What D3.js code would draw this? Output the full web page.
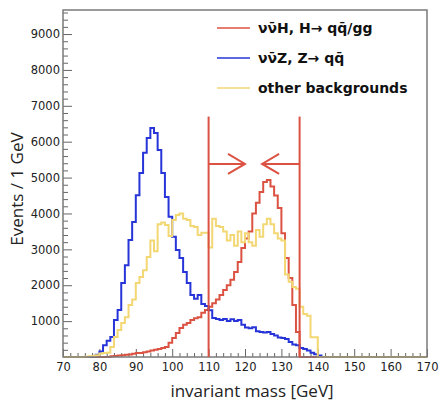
<!DOCTYPE html>
<html>
<head>
<meta charset="utf-8">
<script src="https://cdn.jsdelivr.net/npm/d3@7/dist/d3.min.js"></script>
<style>
  body { margin: 0; background: #fff; }
</style>
</head>
<body>
<div class="wrapper-chart"></div>
<script>
// histogram bins: 1 GeV wide, starting at 70 GeV
const binStart = 70;
const binWidth = 1;

// vvH, H -> qq/gg  (bins 70..169)
const higgsCounts = [
  0, 0, 0, 0, 0, 0, 0, 0, 0, 0,
  0, 0, 0, 20, 30, 40, 50, 60, 70, 90,
  110, 110, 130, 150, 180, 200, 220, 250, 280, 400,
  530, 670, 810, 900, 950, 1030, 1080, 1110, 1230, 1310,
  1400, 1500, 1600, 1730, 1870, 2000, 2150, 2370, 2650, 3040,
  3300, 3500, 4000, 4300, 4600, 4880, 4930, 4750, 4500, 4150,
  3450, 2760, 2200, 1450, 700, 0, 0, 0, 0, 0,
  0, 0, 0, 0, 0, 0, 0, 0, 0, 0,
  0, 0, 0, 0, 0, 0, 0, 0, 0, 0,
  0, 0, 0, 0, 0, 0, 0, 0, 0, 0
];

// vvZ, Z -> qq
const zCounts = [
  0, 0, 0, 0, 0, 0, 0, 0, 20, 60,
  150, 330, 450, 560, 1030, 1310, 2060, 2560, 3260, 3760,
  4510, 5130, 5690, 6100, 6380, 6240, 5770, 5130, 4460, 3910,
  3350, 2980, 2760, 2370, 2060, 1730, 1620, 1730, 1480, 1420,
  1300, 1090, 1060, 1030, 1060, 1000, 1050, 1000, 1030, 900,
  820, 800, 830, 720, 700, 680, 700, 640, 600, 540,
  530, 500, 420, 350, 330, 250, 220, 180, 120, 80,
  40, 0, 0, 0, 0, 0, 0, 0, 0, 0,
  0, 0, 0, 0, 0, 0, 0, 0, 0, 0,
  0, 0, 0, 0, 0, 0, 0, 0, 0, 0
];

// other backgrounds
const otherCounts = [
  0, 0, 0, 0, 0, 0, 10, 20, 30, 50,
  100, 110, 120, 280, 560, 750, 950, 1110, 1450, 1600,
  2060, 2230, 2420, 2790, 3250, 2950, 3700, 3750, 3680, 3370,
  3820, 3960, 4000, 3850, 3820, 3650, 3620, 3400, 3460, 3460,
  3050, 3850, 3650, 3620, 3500, 3250, 3400, 3100, 3500, 3200,
  3450, 3200, 3100, 3540, 3350, 3700, 3850, 3700, 3450, 3300,
  3250, 2300, 2100, 1950, 1900, 1400, 1200, 1150, 550, 550,
  0, 0, 0, 0, 0, 0, 0, 0, 0, 0,
  0, 0, 0, 0, 0, 0, 0, 0, 0, 0,
  0, 0, 0, 0, 0, 0, 0, 0, 0, 0
];

const seriesNames = ["ν\u03BD\u0304H, H\u2192 q\u0071\u0304/gg", "ν\u03BD\u0304Z, Z\u2192 q\u0071\u0304", "other backgrounds"];
const seriesColors = ["#dc5242", "#2634d8", "#f2d773"];

// mass window cut and arrows
const cutValues = [110, 135];
const cutTop = 6700;
const arrowLevel = 5380;
const arrowTips = [120, 124.7];

const xTicks = [70, 80, 90, 100, 110, 120, 130, 140, 150, 160, 170];
const yTicks = [1000, 2000, 3000, 4000, 5000, 6000, 7000, 8000, 9000];
const xDomain = [70, 170];
const yDomain = [0, 9670];

const width = 439, height = 402;
const margin = {top: 10, right: 12, bottom: 45, left: 63};

const svg = d3.select(".wrapper-chart")
              .append("svg")
              .attr("width", width)
              .attr("height", height)
              .attr("viewBox", [0, 0, width, height]);

const x = d3.scaleLinear().domain(xDomain).range([margin.left, width - margin.right]);
const y = d3.scaleLinear().domain(yDomain).range([height - margin.bottom, margin.top]);

// minor ticks first
const xMinor = d3.range(xDomain[0], xDomain[1] + 0.001, 2).filter(v => xTicks.indexOf(v) < 0);
const yMinor = d3.range(200, yDomain[1], 200).filter(v => yTicks.indexOf(v) < 0);

const tickFont = "'DejaVu Sans', sans-serif";

svg.append("g")
   .attr("transform", "translate(0," + y(0) + ")")
   .call(d3.axisBottom(x).tickValues(xMinor).tickSizeInner(-4).tickSizeOuter(0).tickFormat(""))
   .call(g => g.select(".domain").remove())
   .call(g => g.selectAll("line").attr("stroke", "#666"));

svg.append("g")
   .attr("transform", "translate(" + x(xDomain[0]) + ",0)")
   .call(d3.axisLeft(y).tickValues(yMinor).tickSizeInner(-5).tickSizeOuter(0).tickFormat(""))
   .call(g => g.select(".domain").remove())
   .call(g => g.selectAll("line").attr("stroke", "#666"));

const xAxis = svg.append("g")
   .attr("transform", "translate(0," + y(0) + ")")
   .call(d3.axisBottom(x).tickValues(xTicks).tickSizeInner(-8).tickSizeOuter(0).tickPadding(6).tickFormat(d3.format("d")))
   .call(g => g.select(".domain").remove());
xAxis.selectAll("line").attr("stroke", "#666");
xAxis.selectAll("text")
     .attr("font-family", tickFont)
     .attr("font-size", 11.5)
     .attr("fill", "#222");

const yAxis = svg.append("g")
   .attr("transform", "translate(" + x(xDomain[0]) + ",0)")
   .call(d3.axisLeft(y).tickValues(yTicks).tickSizeInner(-9).tickSizeOuter(0).tickPadding(3).tickFormat(d3.format("d")))
   .call(g => g.select(".domain").remove());
yAxis.selectAll("line").attr("stroke", "#666");
yAxis.selectAll("text")
     .attr("font-family", tickFont)
     .attr("font-size", 11.5)
     .attr("fill", "#222");

// histograms
const stepLine = d3.line()
                   .x(d => x(d[0]))
                   .y(d => y(d[1]))
                   .curve(d3.curveStepAfter);

const toPoints = counts => {
  const pts = counts.map((c, i) => [binStart + i * binWidth, c]);
  pts.push([binStart + counts.length * binWidth, counts[counts.length - 1]]);
  return pts;
};

const allCounts = [higgsCounts, zCounts, otherCounts];
allCounts.forEach((counts, i) => {
  svg.append("path")
     .attr("d", stepLine(toPoints(counts)))
     .attr("fill", "none")
     .attr("stroke", seriesColors[i])
     .attr("stroke-width", 2)
     .attr("stroke-linejoin", "miter");
});

// frame
svg.append("rect")
   .attr("x", x(xDomain[0]))
   .attr("y", y(yDomain[1]))
   .attr("width", x(xDomain[1]) - x(xDomain[0]))
   .attr("height", y(yDomain[0]) - y(yDomain[1]))
   .attr("fill", "none")
   .attr("stroke", "#7a7a7a")
   .attr("stroke-width", 1.5);

// cut lines + arrows
const cutColor = "#dc5242";
cutValues.forEach((c, i) => {
  svg.append("line")
     .attr("x1", x(c)).attr("x2", x(c))
     .attr("y1", y(cutTop)).attr("y2", y(0))
     .attr("stroke", cutColor)
     .attr("stroke-width", 2);
  const tip = arrowTips[i];
  const dir = tip > c ? 1 : -1;
  svg.append("line")
     .attr("x1", x(c)).attr("x2", x(tip))
     .attr("y1", y(arrowLevel)).attr("y2", y(arrowLevel))
     .attr("stroke", cutColor)
     .attr("stroke-width", 2);
  svg.append("path")
     .attr("d", `M${x(tip) - dir * 17},${y(arrowLevel) - 10}L${x(tip)},${y(arrowLevel)}L${x(tip) - dir * 17},${y(arrowLevel) + 10}`)
     .attr("fill", "none")
     .attr("stroke", cutColor)
     .attr("stroke-width", 2);
});

// legend
const legend = svg.append("g").attr("transform", "translate(217,28)");
seriesNames.forEach((name, i) => {
  const row = legend.append("g").attr("transform", "translate(0," + i * 30 + ")");
  row.append("line")
     .attr("x1", 0).attr("x2", 33)
     .attr("y1", 0).attr("y2", 0)
     .attr("stroke", seriesColors[i])
     .attr("stroke-width", 1.5);
  row.append("text")
     .attr("x", 41)
     .attr("y", 5)
     .attr("font-family", "'DejaVu Sans', sans-serif")
     .attr("font-weight", "bold")
     .attr("font-size", 14)
     .attr("fill", "#111")
     .text(name);
});

// axis titles
svg.append("text")
   .attr("x", 252)
   .attr("y", 397)
   .attr("text-anchor", "middle")
   .attr("font-family", "'Open Sans', sans-serif")
   .attr("font-size", 17)
   .attr("fill", "#222")
   .text("invariant mass [GeV]");

svg.append("text")
   .attr("transform", "translate(23,189) rotate(-90)")
   .attr("text-anchor", "middle")
   .attr("font-family", "'Open Sans', sans-serif")
   .attr("font-size", 17)
   .attr("fill", "#222")
   .text("Events / 1 GeV");
</script>
</body>
</html>
